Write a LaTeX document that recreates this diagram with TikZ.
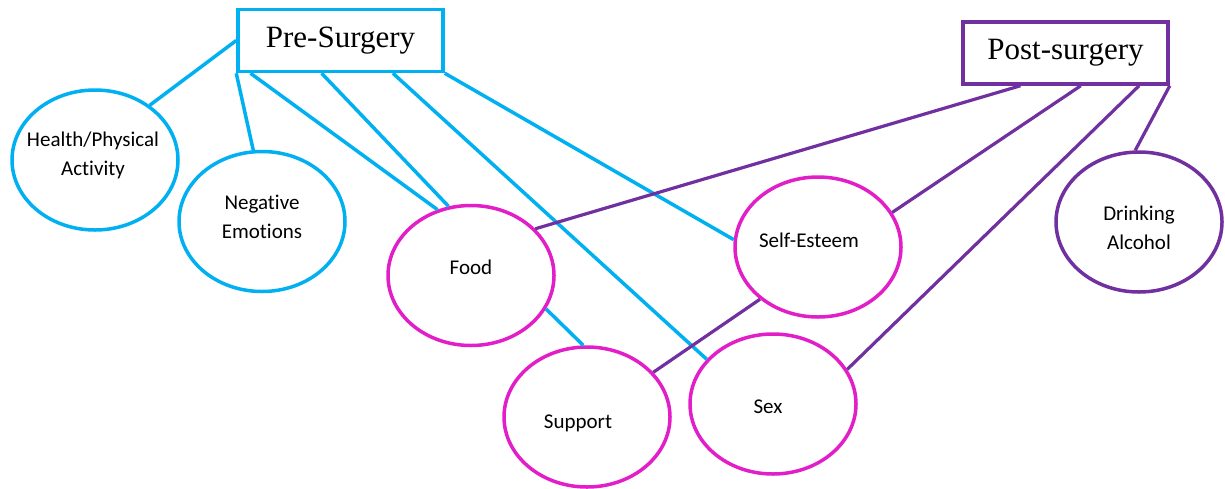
\documentclass[tikz,border=0pt]{standalone}
\usepackage{fontspec}
\setmainfont{Liberation Serif}
\newfontfamily\calibri[Ligatures=NoCommon]{Carlito}
\usetikzlibrary{shapes.geometric}
\definecolor{preblue}{RGB}{0,176,240}
\definecolor{postpurple}{RGB}{112,48,160}
\definecolor{topicpink}{RGB}{226,30,200}
\begin{document}
\begin{tikzpicture} [x=1pt, y=-1pt,
  stage/.style={draw, rectangle, line width=3.5pt, minimum width=205pt,
    minimum height=62pt, inner sep=0pt, font=\fontsize{31}{37}\selectfont},
  topic/.style={draw, ellipse, line width=3.5pt, minimum width=166pt,
    minimum height=140pt, inner sep=0pt},
  every label/.style={inner sep=0pt, align=center, text=black,
    font=\calibri\fontsize{21}{29}\selectfont},
  preline/.style={preblue, line width=3.5pt},
  postline/.style={postpurple, line width=3.2pt}]
    \useasboundingbox (0,0) rectangle (1225,488);

    % the two stages
    \node [stage, preblue, text=black] (pre) at (340.5,40.5) {Pre-Surgery};
    \node [stage, postpurple, text=black] (post) at (1065.5,53) {Post-surgery};

    % themes
    \node [topic, preblue, label={[xshift=-2pt,yshift=5pt]center:Health/Physical\\Activity}] (health) at (95,160) {};
    \node [topic, preblue, label={[yshift=5pt]center:Negative\\Emotions}] (neg) at (262,221.5) {};
    \node [topic, topicpink, label={[yshift=8pt]center:Food}] (food) at (471,275.5) {};
    \node [topic, topicpink, label={[xshift=-9pt,yshift=-6pt]center:Support}] (support) at (587,417) {};
    \node [topic, topicpink, label={[xshift=-5pt,yshift=-3pt]center:Sex}] (sex) at (773,404) {};
    \node [topic, topicpink, label={[xshift=-9pt,yshift=7pt]center:Self-Esteem}] (selfest) at (818,247) {};
    \node [topic, postpurple, label={[yshift=-6pt]center:Drinking\\Alcohol}] (drink) at (1139,222) {};

    % pre-surgery links
    \draw [preline] (pre.west) -- (health.45);
    \draw [preline] (pre.south west) -- (neg.97);
    \draw [preline] (pre.200) -- (food.117);
    \draw [preline] (pre.240) -- (food.108);
    \draw [preline] (pre.-32) -- (sex.146);
    \draw [preline] (pre.south east) -- (selfest.175);
    \draw [preline] (food.-24) -- (support.93);

    % post-surgery links
    \draw [postline] (post.216) -- (food.36);
    \draw [postline] (post.-65) -- (selfest.25);
    \draw [postline] (post.-24) -- (sex.25);
    \draw [postline] (post.south east) -- (drink.93);
    \draw [postline] (selfest.222) -- (support.34);
  \end{tikzpicture}
\end{document}
